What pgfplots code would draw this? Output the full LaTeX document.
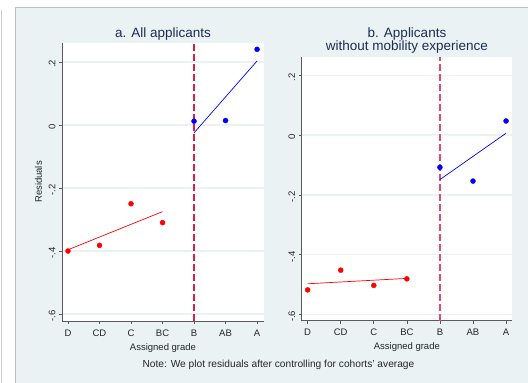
\documentclass[border=0pt]{standalone}
\usepackage{pgfplots}
\pgfplotsset{compat=1.18}
\usepackage{fontspec}
\setmainfont{Liberation Sans}
\definecolor{bgcol}{RGB}{234,242,243}
\definecolor{gridcol}{RGB}{234,242,243}
\definecolor{crimsonline}{RGB}{220,30,70}
\definecolor{pinkline}{RGB}{225,75,115}
\definecolor{axcol}{RGB}{90,90,90}
\definecolor{titcol}{RGB}{30,45,83}
\begin{document}
\begin{tikzpicture}
\path[use as bounding box] (0pt,0pt) rectangle (528pt,383pt);
\fill[bgcol] (15pt,0pt) rectangle (528pt,376pt);
\draw[black!25,line width=0.8pt] (15pt,0pt) -- (15pt,376pt) -- (528pt,376pt);
\draw[black!20,line width=0.8pt] (1.5pt,0pt) -- (1.5pt,373pt);
\pgfplotsset{
  myax/.style={
    scale only axis, anchor=south west,
    axis background/.style={fill=white},
    axis x line*=bottom, axis y line*=left,
    axis line style={draw=axcol,line width=0.6pt},
    tick style={draw=axcol,line width=0.6pt},
    tick align=outside, major tick length=3pt,
    xtick={0,1,2,3,4,5,6},
    xticklabels={D,CD,C,BC,B,AB,A},
    ytick={-0.6,-0.4,-0.2,0,0.2},
    yticklabels={-.6,-.4,-.2,0,.2},
    ymajorgrids, major grid style={draw=gridcol,line width=1.4pt},
    ticklabel style={font=\fontsize{9.5}{11}\selectfont, text=black!85},
    yticklabel style={rotate=90, anchor=south, xshift=-2pt},
    xticklabel style={yshift=-2pt},
    label style={font=\fontsize{9.5}{11}\selectfont, text=black!85},
    xlabel={Assigned grade},
    clip=false,
  },
  dots/.style={only marks, mark=*, mark size=2.5pt},
  fit/.style={no marks, line width=0.7pt},
}
\begin{axis}[myax, at={(62pt,62pt)}, width=202pt, height=278pt,
  xmin=-0.19, xmax=6.22, ymin=-0.622, ymax=0.26,
  ylabel={Residuals}]
\addplot[draw=crimsonline, line width=1.1pt, dash pattern=on 7pt off 3pt] coordinates {(4,-0.622) (4,0.26)};
\addplot[red, fit] coordinates {(0,-0.396) (3,-0.275)};
\addplot[blue, fit] coordinates {(4,-0.025) (6,0.203)};
\addplot[red, dots, mark options={fill=red,draw=red}] coordinates {(0,-0.400) (1,-0.382) (2,-0.250) (3,-0.310)};
\addplot[blue, dots, mark options={fill=blue,draw=blue}] coordinates {(4,0.012) (5,0.014) (6,0.240)};
\end{axis}
\begin{axis}[myax, at={(301.7pt,62.3pt)}, width=210.3pt, height=264pt,
  xmin=-0.18, xmax=6.18, ymin=-0.621, ymax=0.262]
\addplot[draw=pinkline, line width=1.2pt, dash pattern=on 7pt off 3pt] coordinates {(4,-0.621) (4,0.262)};
\addplot[red, fit] coordinates {(0,-0.4975) (3,-0.4795)};
\addplot[blue, fit] coordinates {(4,-0.149) (6,0.006)};
\addplot[red, dots, mark options={fill=red,draw=red}] coordinates {(0,-0.518) (1,-0.452) (2,-0.503) (3,-0.481)};
\addplot[blue, dots, mark options={fill=blue,draw=blue}] coordinates {(4,-0.108) (5,-0.154) (6,0.047)};
\end{axis}
\node[font=\fontsize{13.5}{15}\selectfont, text=titcol] at (163pt,349pt) {a. All applicants};
\node[font=\fontsize{13.5}{13}\selectfont, text=titcol, align=center] at (407pt,342.5pt) {b. Applicants\\without mobility experience};
\node[font=\fontsize{10.2}{12}\selectfont, text=black!85] at (278.5pt,18pt) {Note: We plot residuals after controlling for cohorts' average};
\end{tikzpicture}
\end{document}
